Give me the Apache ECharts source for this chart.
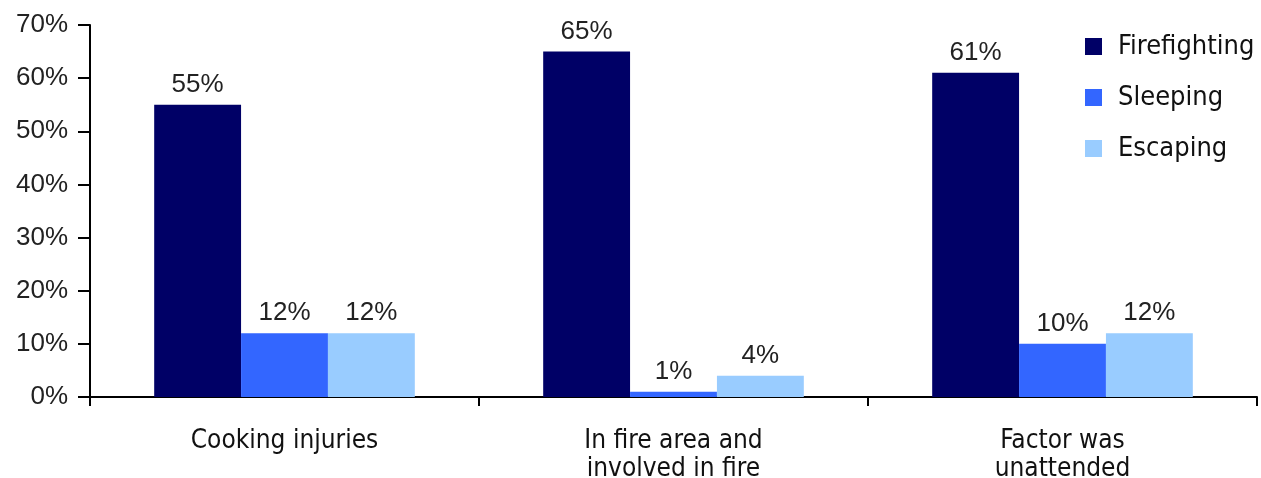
<!DOCTYPE html>
<html><head><meta charset="utf-8">
<script src="https://cdn.jsdelivr.net/npm/echarts@6/dist/echarts.min.js"></script>
<style>html,body{margin:0;padding:0;background:#fff}#c{width:1261px;height:478px}</style>
</head><body><div id="c"></div>
<script>
var categories = ['Cooking injuries', 'In fire area and\ninvolved in fire', 'Factor was\nunattended'];
var seriesNames = ['Firefighting', 'Sleeping', 'Escaping'];
var firefighting = [55, 65, 61];
var sleeping = [12, 1, 10];
var escaping = [12, 4, 12];
var yTicks = [0, 10, 20, 30, 40, 50, 60, 70];
var colors = ['#000066', '#3366FF', '#99CCFF'];
var values = [firefighting, sleeping, escaping];
var narrow = 'Liberation Sans Narrow, DejaVu Sans Condensed, Liberation Sans, Arial';

var chart = echarts.init(document.getElementById('c'));
chart.setOption({
  animation: false,
  grid: {left: 90, right: 4, top: 25, bottom: 81, outerBoundsMode: 'none', containLabel: false},
  legend: {
    orient: 'vertical', left: 1085, top: 33, padding: 0, itemWidth: 17, itemHeight: 17, itemGap: 24,
    icon: 'rect',
    textStyle: {fontFamily: narrow, fontSize: 27, color: '#111', padding: [0,0,0,11]},
    data: seriesNames
  },
  xAxis: {
    type: 'category', data: categories,
    axisLine: {lineStyle: {color: '#000', width: 2}},
    axisTick: {show: true, length: 9, lineStyle: {color: '#000', width: 2}},
    axisLabel: {fontFamily: narrow, fontSize: 26, color: '#111', margin: 30, lineHeight: 28}
  },
  yAxis: {
    type: 'value', min: yTicks[0], max: yTicks[yTicks.length-1], interval: 10,
    axisLine: {show: true, lineStyle: {color: '#000', width: 2}},
    axisTick: {show: true, length: 12, lineStyle: {color: '#000', width: 2}},
    splitLine: {show: false},
    axisLabel: {formatter: '{value}%', fontFamily: 'Liberation Sans, Arial', fontSize: 26, color: '#222', margin: 22}
  },
  series: seriesNames.map(function(n, i){
    return {
      name: n, type: 'bar', data: values[i], barGap: '0%', barCategoryGap: '33%',
      itemStyle: {color: colors[i]},
      label: {show: true, position: 'top', formatter: '{c}%', fontFamily: 'Liberation Sans, Arial', fontSize: 26, color: '#222', distance: 7}
    };
  })
});
</script></body></html>
